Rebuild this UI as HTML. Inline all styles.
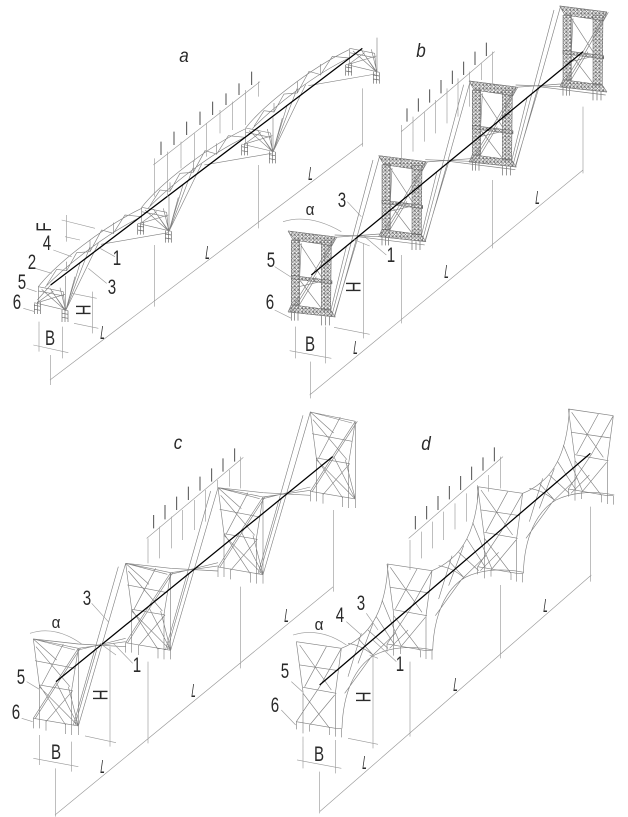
<!DOCTYPE html>
<html><head><meta charset="utf-8"><style>
html,body{margin:0;padding:0;background:#fff;width:628px;height:817px;overflow:hidden}
svg{display:block}
.s path,.s use{fill:none}
.g{stroke:#808080;stroke-width:1.9;fill:none}
.k{stroke:#999;stroke-width:1.9;fill:none}
.d{stroke:#666;stroke-width:2;fill:none}
.b{stroke:#000;stroke-width:3.8;fill:none}
.t{stroke:#444;stroke-width:2.8;fill:none}
text{font-family:"Liberation Sans",sans-serif;fill:#2a2a2a;text-anchor:middle}
.n{font-size:21px}
.i{font-size:19px;font-style:italic}
.l{font-size:19px}
.al{font-size:17px}
</style></head><body>
<svg xmlns="http://www.w3.org/2000/svg" width="628" height="817" viewBox="0 0 628 817">
<defs>
<pattern id="lat" patternUnits="userSpaceOnUse" width="11" height="11"><path d="M0,0L11,11M11,0L0,11M0,0H11M0,0V11" stroke="#555" stroke-width="1.5" fill="none"/></pattern>

<g id="ta">
<path class="d" d="M103,820V852M112,815V852M121,815V852M186,840V876M195,838V876M204,842V876M103,826L121,829M103,838L121,841M186,850L204,853M186,862L204,865"/>
<path class="g" d="M103,818L204,842M115,770L190,785M115,783L190,798M115,770V815M190,785L195,840M197,842L125,778M197,842L155,783M197,842L180,773M197,842L197,738M112,818L160,783M112,818L195,793M150,775L195,842"/>
</g>
<g id="sa">
<path class="g" d="M115,770C170,700 310,590 425,535M135,772C200,705 320,610 425,560M200,695V722M270,630V665M340,578V612M140,765L170,718L200,722L230,668L270,665L305,600L340,610L375,555L425,560M197,842L270,650M197,842L295,640M197,842L240,700M197,842L225,740M303,643L505,608"/>
</g>

<g id="tb">
<path d="M100,720H125V915H100ZM190,722H220L218,930H190ZM90,693L232,711L222,737L105,720ZM90,936L100,914L218,930L232,951ZM100,826L222,842V852L100,836Z" fill="url(#lat)" stroke="#555" stroke-width="1.4"/>
<path class="d" d="M100,936V962M110,938V962M120,940V962M190,948V976M202,950V976M214,950V976"/>
<path class="g" d="M90,693L232,711M92,936L232,951M125,730L190,830M130,730L125,830M125,840L190,925M122,860L200,842M95,935L160,830L230,712M103,935L168,830L236,712M112,935L175,830"/>
</g>
<g id="sb">
<path class="g" d="M230,950L365,468M222,945L345,480M230,945L300,712M215,945L265,740M230,712L365,702M230,705L365,710M300,710L500,735"/>
</g>

<g id="tc">
<path class="g" d="M100,657L235,685M100,657L118,795V900M235,685L215,810V930M235,685V918M100,895L235,918M105,722L225,745M118,795L218,812M108,680L210,800M190,672L125,795M118,800L235,918M170,790L235,918M205,800L235,918M118,795L197,915M218,812L138,905M100,895L170,785L235,685M106,895L176,785L241,685M100,657L170,720M100,657L225,690M100,895V925M118,900V925M138,900V932M197,912V942M215,915V945M235,918V945"/>
</g>
<g id="sc">
<path class="g" d="M235,918L377,430M220,915L355,440M225,915L290,690M235,685L377,665M235,672L377,680M235,690L377,655M100,657L235,672"/>
</g>

<g id="td">
<path class="g" d="M115,725L250,745M115,725L135,875V985M250,745L232,880V985M115,965L232,985H250M115,965L185,860L250,745M125,795L242,812M135,862L235,880M125,735L220,870M205,740L140,860M135,880L215,985M230,885L155,975M115,965V988M135,970V1000M155,975V995M215,985V1005M232,985V1010M250,985V1012"/>
</g>
<g id="sd">
<path class="g" d="M250,745C275,735 290,725 305,712C360,668 385,590 390,493M252,985C255,880 290,800 350,765C390,745 450,735 525,750M270,730C300,735 320,745 345,765M300,715L345,765M330,690L390,745M355,650L410,735M372,600L430,740M310,700L270,830M345,670L300,790M260,880L340,770M340,770L412,700M395,745L450,690"/>
</g>
</defs>

<!-- a -->
<g class="s" transform="translate(0,30) scale(.33333)">
<use href="#ta"/><use href="#ta" x="310" y="-238"/><use href="#ta" x="622" y="-476"/><use href="#ta" x="934" y="-715"/>
<use href="#sa"/><use href="#sa" x="310" y="-238"/><use href="#sa" x="622" y="-476"/>
<path class="g" d="M112,810L152,765"/>
<path class="b" d="M152,765L1087,55"/>
<path class="k" d="M460,405L780,155M463,385V500M503,365V500M543,335V415M583,310V395M620,280V380M660,240V310M698,215V300M737,180V285M775,155V200M463,645V830M775,405V595M1088,175V350M152,975V1065M150,1050L1088,340M117,875V965M188,890V985M100,945L205,968M215,790L290,805M222,880L295,895M277,785V910M185,570L285,595M195,620L240,630M200,555V635M160,660L215,680M105,715L155,730M80,775L110,785M70,835L105,845M300,655L345,680M265,715L320,760"/>
<path class="t" d="M483,335V375M522,305V345M560,275V315M600,245V285M638,215V255M678,190V225M717,160V195M755,125V165"/>
</g>

<!-- b -->
<g class="s" transform="translate(258,0) scale(.33333)">
<use href="#tb"/><use href="#tb" x="272" y="-226"/><use href="#tb" x="543" y="-450"/><use href="#tb" x="815" y="-675"/>
<use href="#sb"/><use href="#sb" x="272" y="-226"/><use href="#sb" x="543" y="-450"/>
<path class="b" d="M160,825L975,155"/>
<path class="k" d="M430,395L710,155M430,375V490M465,350V455M499,335V425M533,300V400M567,265V370M600,235V350M635,215V320M670,190V240M703,155V250M430,765V970M703,540V745M975,320V520M157,1085V1195M155,1185L975,510M112,980V1075M203,980V1090M95,1052L220,1075M285,718L335,738M228,982L335,1003M316,730V1015M75,665Q155,640 250,695M268,605L310,650M320,710L385,765M50,800L105,835M50,930L100,955"/>
<path class="t" d="M447,325V365M481,295V335M515,268V308M549,240V280M583,212V252M617,185V225M651,155V195M685,128V168"/>
</g>

<!-- c -->
<g class="s" transform="translate(0,420) scale(.33333)">
<use href="#tc"/><use href="#tc" x="277" y="-227"/><use href="#tc" x="554" y="-454"/><use href="#tc" x="831" y="-681"/>
<use href="#sc"/><use href="#sc" x="277" y="-227"/><use href="#sc" x="554" y="-454"/>
<path class="b" d="M168,785L998,110"/>
<path class="k" d="M440,355L730,112M444,355V430M479,320V415M514,290V385M548,270V360M583,240V330M617,210V305M653,180V205M688,150V200M722,110V205M444,725V970M722,500V745M1000,270V515M167,1045V1190M165,1185L1000,500M118,945V1035M215,965V1055M100,1015L235,1040M255,948L348,968M300,670L348,705M330,680V980M90,640Q165,615 245,672M275,550L325,605M340,670L398,730M80,785L118,808M65,895L98,905"/>
<path class="t" d="M461,285V325M495,255V298M530,230V270M565,200V240M600,170V212M635,145V185M669,115V155M704,85V125"/>
</g>

<!-- d -->
<g class="s" transform="translate(258,400) scale(.33333)">
<use href="#td"/><use href="#td" x="272" y="-233"/><use href="#td" x="544" y="-465"/><use href="#td" x="816" y="-698"/>
<use href="#sd"/><use href="#sd" x="272" y="-233"/><use href="#sd" x="544" y="-465"/>
<path class="b" d="M185,855L997,160"/>
<path class="k" d="M452,415L735,170M456,420V510M490,395V475M523,365V445M557,335V420M591,310V388M625,280V365M658,255V300M692,225V275M727,170V265M456,785V1010M727,555V775M998,320V545M185,1115V1240M185,1235L1000,525M135,1010V1105M232,1020V1120M117,1080L250,1105M270,1015L360,1033M335,765L360,775M345,770V1045M105,705Q185,680 265,735M265,665L310,705M325,640L360,690M345,720L415,785M100,845L133,875M70,930L113,975"/>
<path class="t" d="M472,348V388M506,318V358M540,288V330M574,258V298M608,228V270M641,200V240M675,172V212M709,142V184"/>
</g>

<!-- labels a -->
<text class="i" transform="translate(184,62) scale(.9,1)">a</text>
<text class="n" transform="translate(117,265) scale(.72,1)">1</text>
<text class="n" transform="translate(112,294) scale(.72,1)">3</text>
<text class="n" transform="translate(47,250) scale(.72,1)">4</text>
<text class="n" transform="translate(32,269) scale(.72,1)">2</text>
<text class="n" transform="translate(22,289) scale(.72,1)">5</text>
<text class="n" transform="translate(17,309) scale(.72,1)">6</text>
<text class="n" transform="translate(50,345) scale(.72,1)">B</text>
<text class="n" transform="translate(76,310) rotate(90) scale(.72,1)">H</text>
<text class="n" transform="translate(51,227) rotate(-90) scale(.72,1)">F</text>
<text class="l" transform="translate(102,339) skewX(-8) scale(.42,1)">L</text>
<text class="l" transform="translate(207,259) skewX(-8) scale(.42,1)">L</text>
<text class="l" transform="translate(310,180) skewX(-8) scale(.42,1)">L</text>
<!-- labels b -->
<text class="i" transform="translate(421,57) scale(.9,1)">b</text>
<text class="al" transform="translate(310,215) scale(.9,1)">α</text>
<text class="n" transform="translate(342,207) scale(.72,1)">3</text>
<text class="n" transform="translate(391,262) scale(.72,1)">1</text>
<text class="n" transform="translate(271,267) scale(.72,1)">5</text>
<text class="n" transform="translate(270,309) scale(.72,1)">6</text>
<text class="n" transform="translate(310,351) scale(.72,1)">B</text>
<text class="n" transform="translate(346,287) rotate(90) scale(.72,1)">H</text>
<text class="l" transform="translate(355,354) skewX(-8) scale(.42,1)">L</text>
<text class="l" transform="translate(446,278) skewX(-8) scale(.42,1)">L</text>
<text class="l" transform="translate(537,204) skewX(-8) scale(.42,1)">L</text>
<!-- labels c -->
<text class="i" transform="translate(178,449) scale(.9,1)">c</text>
<text class="al" transform="translate(56,628) scale(.9,1)">α</text>
<text class="n" transform="translate(87,605) scale(.72,1)">3</text>
<text class="n" transform="translate(137,672) scale(.72,1)">1</text>
<text class="n" transform="translate(21,684) scale(.72,1)">5</text>
<text class="n" transform="translate(16,719) scale(.72,1)">6</text>
<text class="n" transform="translate(56,759) scale(.72,1)">B</text>
<text class="n" transform="translate(93,695) rotate(90) scale(.72,1)">H</text>
<text class="l" transform="translate(102,773) skewX(-8) scale(.42,1)">L</text>
<text class="l" transform="translate(193,697) skewX(-8) scale(.42,1)">L</text>
<text class="l" transform="translate(286,622) skewX(-8) scale(.42,1)">L</text>
<!-- labels d -->
<text class="i" transform="translate(426,450) scale(.9,1)">d</text>
<text class="al" transform="translate(319,630) scale(.9,1)">α</text>
<text class="n" transform="translate(340,622) scale(.72,1)">4</text>
<text class="n" transform="translate(361,610) scale(.72,1)">3</text>
<text class="n" transform="translate(400,671) scale(.72,1)">1</text>
<text class="n" transform="translate(285,678) scale(.72,1)">5</text>
<text class="n" transform="translate(275,712) scale(.72,1)">6</text>
<text class="n" transform="translate(319,761) scale(.72,1)">B</text>
<text class="n" transform="translate(356,697) rotate(90) scale(.72,1)">H</text>
<text class="l" transform="translate(364,769) skewX(-8) scale(.42,1)">L</text>
<text class="l" transform="translate(455,691) skewX(-8) scale(.42,1)">L</text>
<text class="l" transform="translate(545,612) skewX(-8) scale(.42,1)">L</text>
</svg>
</body></html>
